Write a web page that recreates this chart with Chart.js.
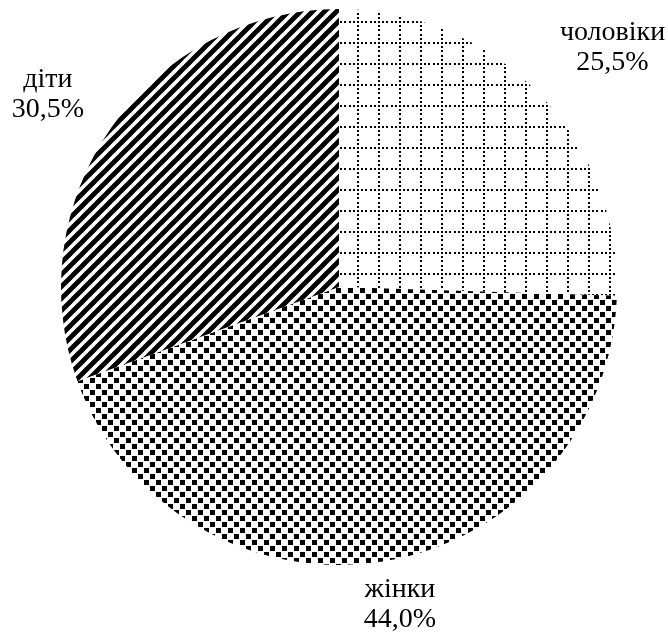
<!DOCTYPE html>
<html>
<head>
<meta charset="utf-8">
<script src="https://cdn.jsdelivr.net/npm/chart.js@4.4.0/dist/chart.umd.min.js"></script>
<style>
  body { margin: 0; background: #fff; }
  canvas { display: block; }
</style>
</head>
<body>
<canvas id="pieChart" width="668" height="637"></canvas>
<script>
// data
var labels = ['чоловіки', 'жінки', 'діти']
var values = [25.5, 44.0, 30.5]
var valueText = ['25,5%', '44,0%', '30,5%']

// patterns (like the black & white hatching of the original)
function gridPattern(ctx) {
    var t = 21
    var c = document.createElement('canvas')
    c.width = t; c.height = t
    var g = c.getContext('2d')
    g.fillStyle = '#fff'
    g.fillRect(0, 0, t, t)
    g.fillStyle = '#000'
    for (var i = 0; i < 5; i++) {
        var p = Math.round(i * t / 5)
        g.fillRect(p, 0, 2, 2)
        g.fillRect(0, p, 2, 2)
    }
    return ctx.createPattern(c, 'repeat')
}

function squaresPattern(ctx) {
    var t = 12
    var c = document.createElement('canvas')
    c.width = t; c.height = t
    var g = c.getContext('2d')
    g.fillStyle = '#fff'
    g.fillRect(0, 0, t, t)
    g.fillStyle = '#000'
    g.fillRect(0, 0, 5, 5)
    g.fillRect(6, 6, 5, 5)
    return ctx.createPattern(c, 'repeat')
}

function stripePattern(ctx) {
    var t = 12
    var c = document.createElement('canvas')
    c.width = t; c.height = t
    var g = c.getContext('2d')
    g.fillStyle = '#fff'
    g.fillRect(0, 0, t, t)
    g.strokeStyle = '#000'
    g.lineWidth = 4.8
    g.beginPath()
    g.moveTo(-t, t); g.lineTo(t, -t)
    g.moveTo(0, t); g.lineTo(t, 0)
    g.moveTo(0, 2 * t); g.lineTo(2 * t, 0)
    g.stroke()
    return ctx.createPattern(c, 'repeat')
}

var canvas = document.getElementById('pieChart')
var ctx = canvas.getContext('2d')
var fills = [gridPattern(ctx), squaresPattern(ctx), stripePattern(ctx)]
var labelDist = [1.30, 1.17, 1.24]
var labelNudge = [[14, 12], [10, -4], [-9, 6]]

var outsideLabels = {
    id: 'outsideLabels',
    afterDraw: function(chart) {
        var c = chart.ctx
        var arcs = chart.getDatasetMeta(0).data
        c.save()
        c.fillStyle = '#000'
        c.font = '28px "Liberation Serif", "DejaVu Serif", serif'
        c.textAlign = 'center'
        c.textBaseline = 'middle'
        arcs.forEach(function(arc, i) {
            var a = (arc.startAngle + arc.endAngle) / 2
            var r = arc.outerRadius * labelDist[i]
            var x = arc.x + Math.cos(a) * r + labelNudge[i][0]
            var y = arc.y + Math.sin(a) * r + labelNudge[i][1]
            c.fillText(labels[i], x, y - 15)
            c.fillText(valueText[i], x, y + 15)
        })
        c.restore()
    }
}

new Chart(canvas, {
    type: 'pie',
    data: {
        labels: labels,
        datasets: [{
            data: values,
            backgroundColor: fills,
            borderWidth: 0
        }]
    },
    options: {
        responsive: false,
        devicePixelRatio: 1,
        animation: false,
        layout: { padding: { top: 9, bottom: 72, left: 10, right: 0 } },
        plugins: {
            legend: { display: false },
            tooltip: { enabled: false }
        }
    },
    plugins: [outsideLabels]
})
</script>
</body>
</html>
